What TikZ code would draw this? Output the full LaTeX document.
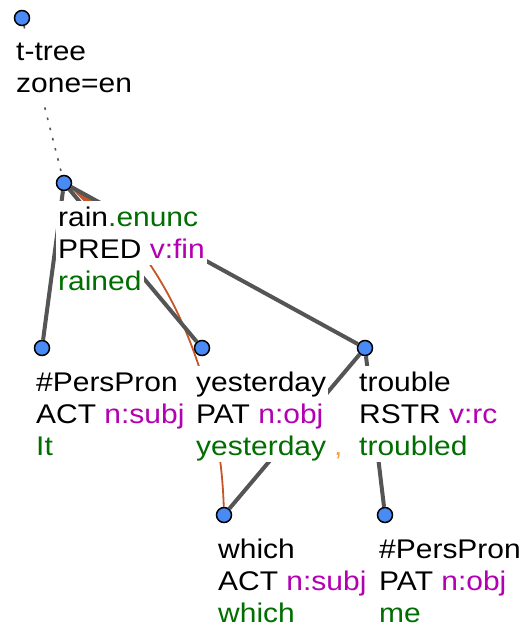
\documentclass[tikz,border=0pt]{standalone}
\usepackage{fontspec}
\setmainfont[FakeStretch=1.11]{Liberation Sans}
\usetikzlibrary{arrows.meta}
\definecolor{tpurple}{RGB}{178,0,178}
\definecolor{tgreen}{RGB}{0,110,0}
\definecolor{tgray}{RGB}{85,85,85}
\definecolor{tcoref}{RGB}{200,85,40}
\definecolor{tpunct}{RGB}{245,160,60}
\definecolor{tblue}{RGB}{74,138,245}

\begin{document}
\begin{tikzpicture}[x=1pt, y=-1pt, every node/.style={font=\fontsize{27}{32}\selectfont},
	tnode/.style={circle, draw=black, line width=1.5pt, fill=tblue, minimum size=15pt, inner sep=0pt},
	tline/.style={anchor=base west, fill=white, inner xsep=2pt, inner ysep=0pt, text height=25pt, text depth=7pt},
	tedge/.style={draw=tgray, line width=4pt},
	tdots/.style={draw=tgray, line width=1.6pt, dash pattern=on 2.5pt off 8pt},
	coref/.style={draw=tcoref, line width=1.8pt, -{Triangle[length=30pt, width=10pt]}}]
	\useasboundingbox (0,0) rectangle (531,631);
	% tree nodes
	\node[tnode] (root) at (22,18) {};
	\node[tnode] (rain) at (64,183) {};
	\node[tnode] (it) at (42,348) {};
	\node[tnode] (yest) at (202,348) {};
	\node[tnode] (trouble) at (365,348) {};
	\node[tnode] (which) at (224,515) {};
	\node[tnode] (me) at (385,515) {};
	% edges
	\draw[coref] (which) .. controls (220,380) and (165,256) .. (rain);
	\draw[tdots] (root) -- (rain);
	\foreach \p/\c in {rain/it, rain/yest, rain/trouble, trouble/which, trouble/me}
		\draw[tedge] (\p) -- (\c);
	% labels
	\node[tline] (root-l1) at ([shift={(-8,43)}]root.center) {t-tree};
	\node[tline] (root-l2) at ([shift={(-8,75)}]root.center) {zone=en};
	\foreach \n/\a/\b/\c in {
		rain/{rain\textcolor{tgreen}{.enunc}}/{PRED \textcolor{tpurple}{v:fin}}/{\textcolor{tgreen}{rained}},
		it/{\#PersPron}/{ACT \textcolor{tpurple}{n:subj}}/{\textcolor{tgreen}{It}},
		yest/{yesterday}/{PAT \textcolor{tpurple}{n:obj}}/{\textcolor{tgreen}{yesterday}},
		trouble/{trouble}/{RSTR \textcolor{tpurple}{v:rc}}/{\textcolor{tgreen}{troubled}},
		which/{which}/{ACT \textcolor{tpurple}{n:subj}}/{\textcolor{tgreen}{which}},
		me/{\#PersPron}/{PAT \textcolor{tpurple}{n:obj}}/{\textcolor{tgreen}{me}}} {
		\node[tline] (\n-l1) at ([shift={(-8,43)}]\n.center) {\a};
		\node[tline] (\n-l2) at ([shift={(-8,75)}]\n.center) {\b};
		\node[tline] (\n-l3) at ([shift={(-8,107)}]\n.center) {\c};
	}
	\node[anchor=base west, inner sep=0pt, text=tpunct] (comma) at (334,455) {,};
\end{tikzpicture}
\end{document}
